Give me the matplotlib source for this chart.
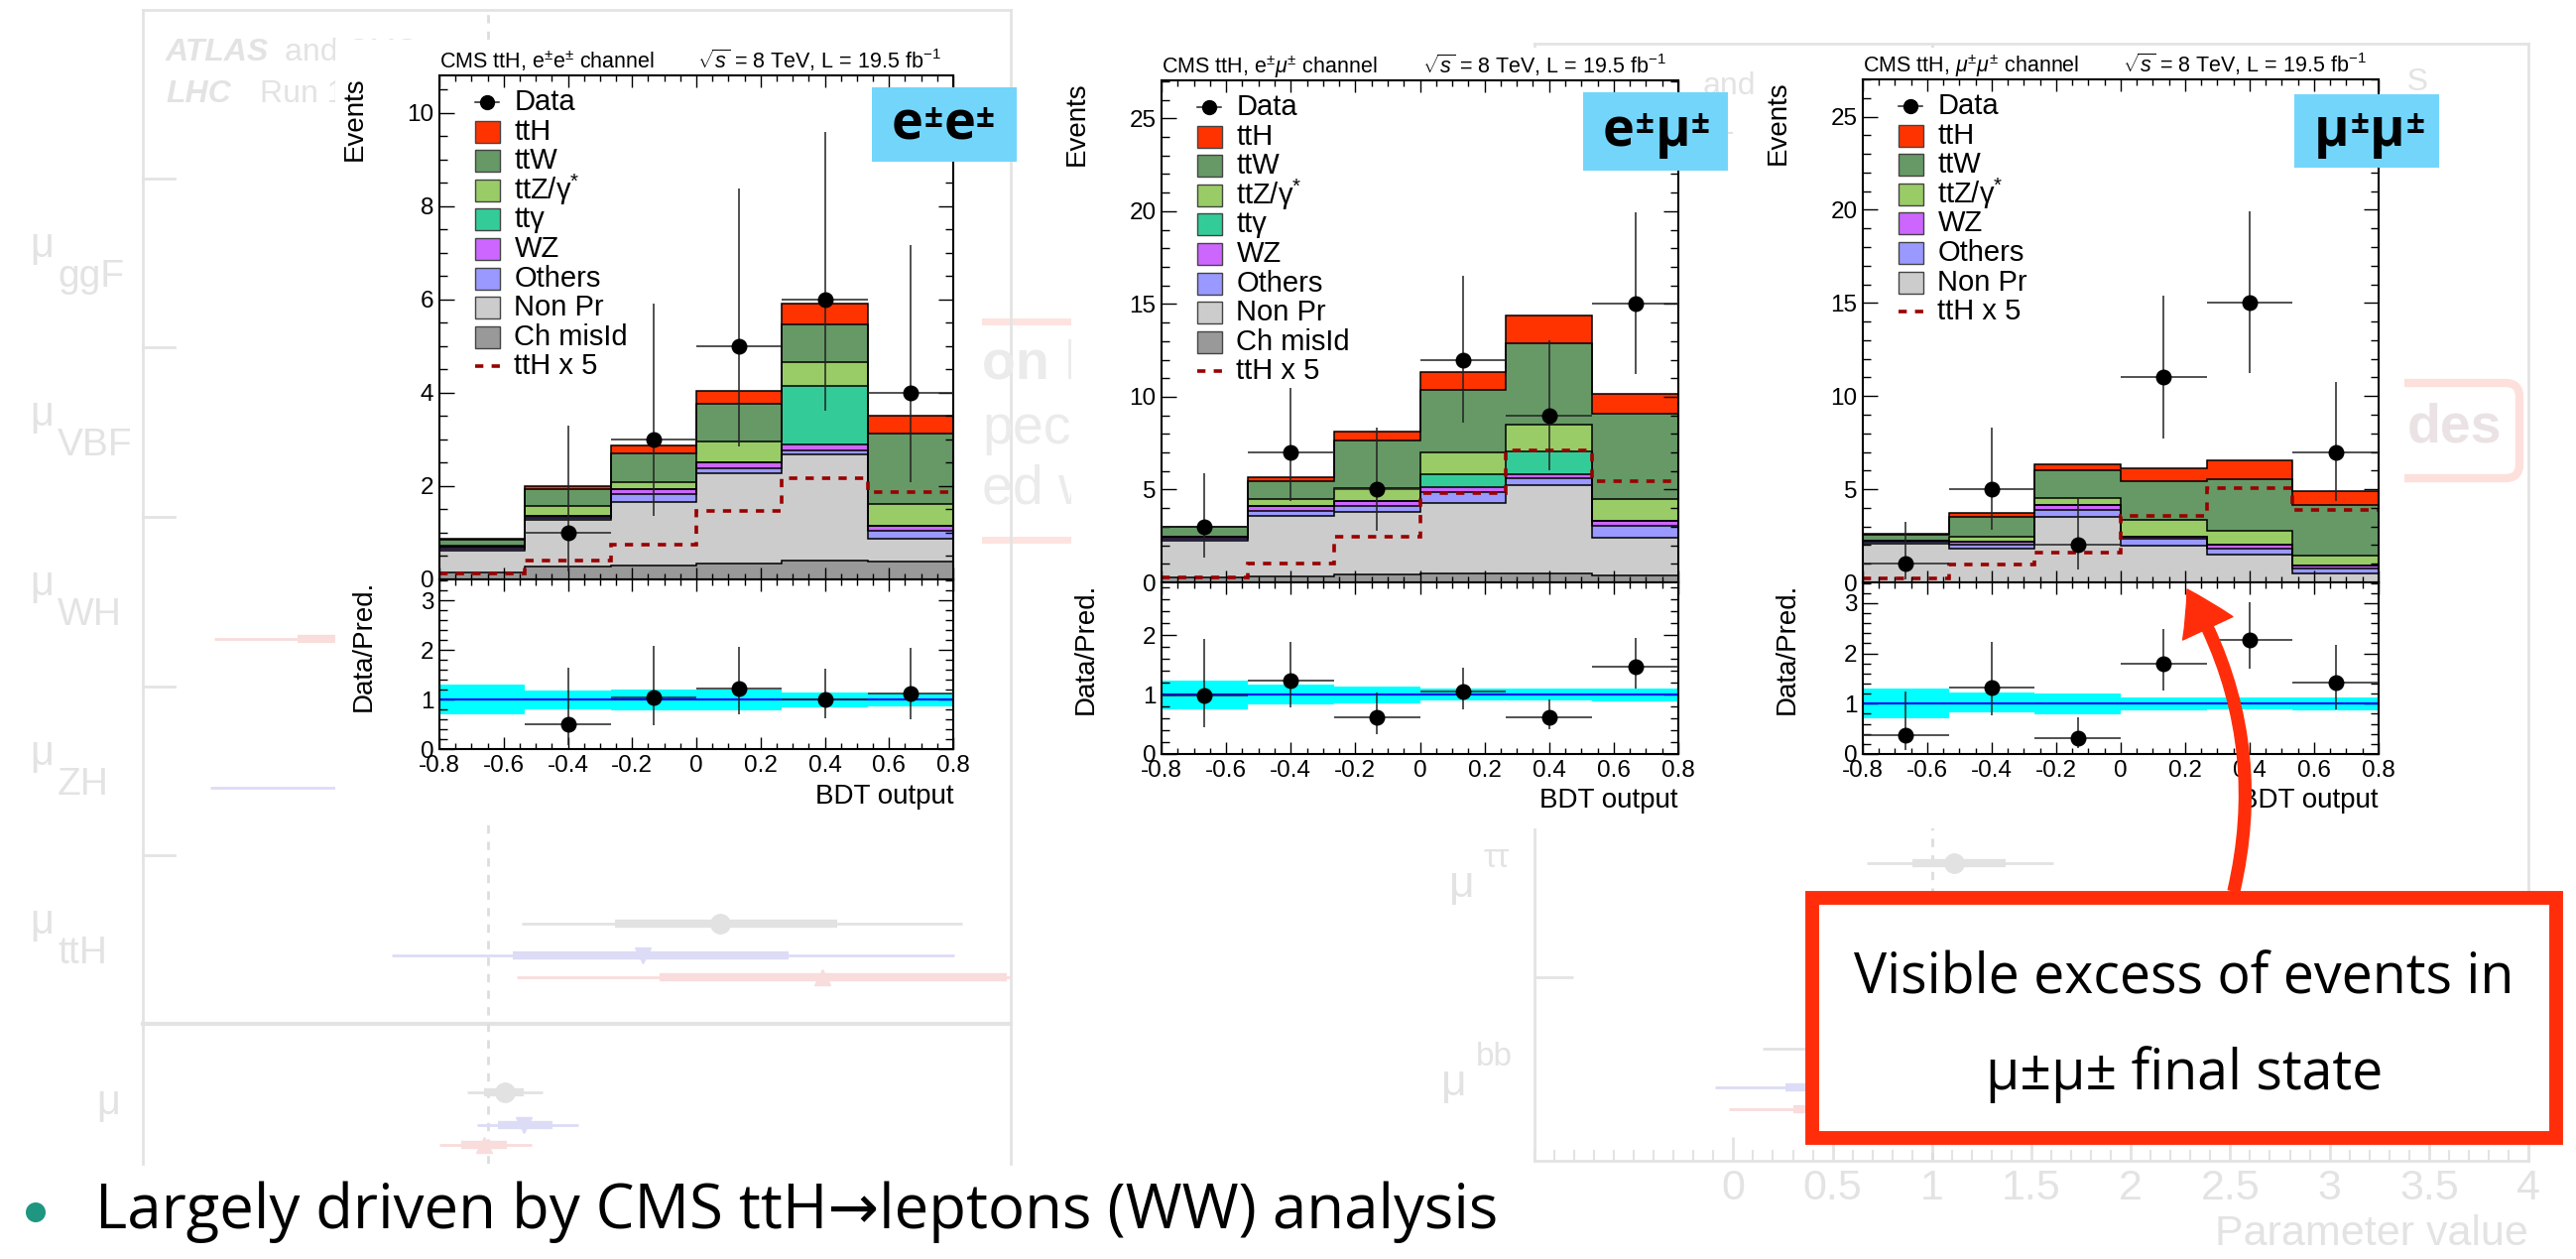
import numpy as np
import matplotlib.pyplot as plt
from matplotlib.patches import Rectangle, FancyArrowPatch, FancyBboxPatch, Circle
from matplotlib.ticker import MultipleLocator, FixedLocator, FormatStrFormatter

plt.rcParams['font.family'] = ['Liberation Sans', 'DejaVu Sans']
plt.rcParams['mathtext.fontset'] = 'custom'
plt.rcParams['mathtext.rm'] = 'Liberation Sans'
plt.rcParams['mathtext.it'] = 'Liberation Sans:italic'
plt.rcParams['mathtext.bf'] = 'Liberation Sans:bold'
plt.rcParams['axes.unicode_minus'] = False

W, H = 2597, 1269

# ---- data: BDT output bins ----
edges = np.linspace(-0.8, 0.8, 7)
centers = 0.5 * (edges[:-1] + edges[1:])
halfw = 0.5 * (edges[1] - edges[0])

proc_labels = ['Ch misId', 'Non Pr', 'Others', 'WZ', 'ttγ', r'ttZ/γ$^{*}$', 'ttW', 'ttH']
proc_colors = ['#999999', '#cccccc', '#9999ff', '#cc66ff', '#33cc99', '#99cc66', '#669966', '#ff3300']

# e+-e+- channel
ee_chmisid = [0.15, 0.27, 0.29, 0.35, 0.41, 0.39]
ee_nonpr = [0.47, 1.00, 1.37, 1.93, 2.26, 0.48]
ee_others = [0.04, 0.05, 0.16, 0.11, 0.10, 0.17]
ee_wz = [0.05, 0.05, 0.11, 0.11, 0.13, 0.11]
ee_ttg = [0.00, 0.00, 0.00, 0.00, 1.25, 0.00]
ee_ttz = [0.02, 0.20, 0.15, 0.45, 0.50, 0.47]
ee_ttw = [0.12, 0.36, 0.63, 0.81, 0.81, 1.51]
ee_tth = [0.02, 0.07, 0.15, 0.29, 0.44, 0.38]
ee_tth5 = [0.13, 0.41, 0.74, 1.46, 2.16, 1.88]
ee_data = [0, 1, 3, 5, 6, 4]
ee_data_lo = [0, 0.17, 1.37, 2.84, 3.62, 2.09]
ee_data_hi = [0, 3.30, 5.92, 8.38, 9.58, 7.16]
ee_ratio = [np.nan, 0.50, 1.05, 1.23, 1.01, 1.13]
ee_ratio_lo = [np.nan, 0.08, 0.48, 0.70, 0.63, 0.60]
ee_ratio_hi = [np.nan, 1.65, 2.08, 2.07, 1.63, 2.05]
ee_band_lo = [0.70, 0.80, 0.79, 0.79, 0.85, 0.87]
ee_band_hi = [1.30, 1.18, 1.20, 1.20, 1.14, 1.13]

# e+-mu+- channel
em_chmisid = [0.29, 0.32, 0.44, 0.48, 0.48, 0.38]
em_nonpr = [1.93, 3.27, 3.36, 3.80, 4.75, 2.03]
em_others = [0.14, 0.27, 0.29, 0.57, 0.38, 0.63]
em_wz = [0.11, 0.23, 0.28, 0.28, 0.23, 0.29]
em_ttg = [0.00, 0.00, 0.00, 0.71, 1.23, 0.00]
em_ttz = [0.00, 0.42, 0.71, 1.14, 1.45, 1.14]
em_ttw = [0.51, 0.95, 2.56, 3.38, 4.38, 4.60]
em_tth = [0.04, 0.19, 0.50, 0.95, 1.48, 1.10]
em_tth5 = [0.25, 0.99, 2.45, 4.81, 7.13, 5.46]
em_data = [3, 7, 5, 12, 9, 15]
em_data_lo = [1.33, 4.41, 2.80, 8.59, 6.03, 11.22]
em_data_hi = [5.89, 10.46, 8.33, 16.54, 13.06, 19.92]
em_ratio = [0.99, 1.24, 0.61, 1.06, 0.62, 1.47]
em_ratio_lo = [0.45, 0.78, 0.34, 0.76, 0.42, 1.10]
em_ratio_hi = [1.93, 1.89, 1.03, 1.45, 0.92, 1.96]
em_band_lo = [0.76, 0.84, 0.86, 0.90, 0.90, 0.89]
em_band_hi = [1.24, 1.17, 1.13, 1.10, 1.10, 1.11]

# mu+-mu+- channel
mm_chmisid = [0, 0, 0, 0, 0, 0]
mm_nonpr = [2.10, 1.81, 3.52, 1.96, 1.48, 0.48]
mm_others = [0.06, 0.22, 0.38, 0.36, 0.33, 0.24]
mm_wz = [0.07, 0.16, 0.23, 0.15, 0.19, 0.17]
mm_ttg = [0, 0, 0, 0, 0, 0]
mm_ttz = [0.00, 0.26, 0.41, 0.91, 0.76, 0.54]
mm_ttw = [0.35, 1.07, 1.49, 2.04, 2.79, 2.73]
mm_tth = [0.04, 0.19, 0.30, 0.72, 1.01, 0.76]
mm_tth5 = [0.19, 0.95, 1.62, 3.56, 5.08, 3.90]
mm_data = [1, 5, 2, 11, 15, 7]
mm_data_lo = [0.17, 2.80, 0.67, 7.74, 11.22, 4.37]
mm_data_hi = [3.23, 8.33, 4.56, 15.40, 19.92, 10.74]
mm_ratio = [0.37, 1.33, 0.32, 1.79, 2.27, 1.41]
mm_ratio_lo = [0.07, 0.76, 0.12, 1.26, 1.70, 0.89]
mm_ratio_hi = [1.25, 2.22, 0.73, 2.49, 3.01, 2.16]
mm_band_lo = [0.70, 0.83, 0.78, 0.87, 0.88, 0.87]
mm_band_hi = [1.31, 1.23, 1.21, 1.13, 1.13, 1.13]

# faded background: coupling summary plots behind the insets
bgl_row = [3.90, 4.09, 4.22, 4.90, 5.09, 5.21, 2.22, 3.10]
bgl_mu = [2.23, 1.82, 2.77, 1.09, 1.19, 0.98, 0.90, 0.95]
bgl_in_lo = [1.67, 1.13, 1.91, 0.98, 1.05, 0.86, -0.01, 0.70]
bgl_in_hi = [2.85, 2.59, 3.75, 1.19, 1.34, 1.10, 1.80, 1.20]
bgl_out_lo = [1.18, 0.49, 1.15, 0.89, 0.94, 0.74, -0.45, -0.47]
bgl_out_hi = [3.51, 3.47, 3.77, 1.29, 1.48, 1.23, 2.30, 2.40]
bgl_kind = ['comb', 'atlas', 'cms', 'comb', 'atlas', 'cms', 'cms', 'atlas']
bgr_row = [-0.08, 0.86, 1.055, 1.166]
bgr_mu = [1.11, 0.65, 0.62, 1.00]
bgr_in_lo = [0.90, 0.40, 0.26, 0.30]
bgr_in_hi = [1.37, 0.90, 0.98, 1.60]
bgr_out_lo = [0.67, 0.15, -0.09, -0.02]
bgr_out_hi = [1.61, 1.20, 1.40, 1.80]
bgr_kind = ['comb', 'comb', 'atlas', 'cms']
bg_style = {'comb': ('#e2e2e2', 'o'), 'atlas': ('#dcdcf6', 'v'), 'cms': ('#f9dcdc', '^')}
faded = '#e3e3e3'

fig = plt.figure(figsize=(W / 100, H / 100), dpi=100)
fig.patch.set_facecolor('white')


def frac(x0, y0, x1, y1):
    return [x0 / W, 1 - y1 / H, (x1 - x0) / W, (y1 - y0) / H]


def pix_axes(z):
    a = fig.add_axes([0, 0, 1, 1], zorder=z)
    a.set_xlim(0, W)
    a.set_ylim(H, 0)
    a.axis('off')
    return a


# ---- background layer ----
base = pix_axes(0)
# left faded frame
base.plot([144, 144], [10, 1173], color=faded, lw=2)
base.plot([1019, 1019], [10, 1173], color=faded, lw=2)
base.plot([144, 1019], [10, 10], color=faded, lw=2)
base.plot([144, 1019], [1032, 1032], color=faded, lw=3)
for yy in [180, 350, 521, 692, 862]:
    base.plot([144, 176], [yy, yy], color=faded, lw=2)
for lab, yc in zip(['ggF', 'VBF', 'WH', 'ZH', 'ttH'], [265, 435, 606, 777, 947]):
    base.text(42, yc - 17, 'μ', fontsize=30, color=faded, ha='center', va='center')
    base.text(58, yc + 14, lab, fontsize=28, color=faded, ha='left', va='center')
base.text(109, 1112, 'μ', fontsize=30, color=faded, ha='center', va='center')
base.text(167, 53, 'ATLAS', fontsize=23, color=faded, weight='bold', style='italic', va='center')
base.text(287, 53, 'and CMS', fontsize=23, color=faded, va='center')
base.text(167, 95, 'LHC', fontsize=23, color=faded, weight='bold', style='italic', va='center')
base.text(262, 95, 'Run 1', fontsize=23, color=faded, va='center')
base.text(940, 55, '● ATLAS+CMS', fontsize=23, color=faded, ha='right', va='center')
base.text(1717, 87, 'and', fontsize=23, color=faded, va='center')
base.text(1731, 127, '1', fontsize=23, color=faded, va='center')
base.text(2449, 83, 'ATLAS+CMS', fontsize=23, color=faded, ha='right', va='center')
# faded red boxes of the slide underneath
base.add_patch(Rectangle((620, 324), 470, 220, fill=False, ec='#fde3df', lw=5))
base.text(990, 368, 'on l', fontsize=40, weight='bold', color='#ebebeb', va='center')
base.text(990, 433, 'pec', fontsize=40, color='#ebebeb', va='center')
base.text(990, 493, 'ed w', fontsize=40, color='#ebebeb', va='center')
base.add_patch(FancyBboxPatch((2300, 386), 240, 96, boxstyle='round,pad=0,rounding_size=14',
                              fill=False, ec='#fde0dc', lw=6))
base.text(2427, 432, 'des', fontsize=40, weight='bold', color='#ebe3e3', va='center')
# right faded plot labels
base.text(1474, 893, 'μ', fontsize=32, color=faded, ha='center', va='center')
base.text(1496, 866, 'ττ', fontsize=24, color=faded, ha='left', va='center')
base.text(1466, 1092, 'μ', fontsize=32, color=faded, ha='center', va='center')
base.text(1488, 1066, 'bb', fontsize=24, color=faded, ha='left', va='center')

bgl = fig.add_axes(frac(144, 10, 1019, 1173), zorder=0.2)
bgl.set_xlim(-0.83, 3.77)
bgl.set_ylim(5.32, -1.5)
bgl.axis('off')
bgl.axvline(1, color='#dddddd', lw=2, ls=(0, (3, 3)))


def faded_points(a, rows, mu, ilo, ihi, olo, ohi, kinds):
    for r, m, a1, a2, b1, b2, k in zip(rows, mu, ilo, ihi, olo, ohi, kinds):
        col, mk = bg_style[k]
        a.plot([b1, b2], [r, r], color=col, lw=2, solid_capstyle='butt')
        a.plot([a1, a2], [r, r], color=col, lw=6, solid_capstyle='butt')
        a.plot([m], [r], marker=mk, color=col, ms=14 if k == 'comb' else 11)


faded_points(bgl, bgl_row, bgl_mu, bgl_in_lo, bgl_in_hi, bgl_out_lo, bgl_out_hi, bgl_kind)

bgr = fig.add_axes(frac(1547, 44, 2549, 1170), zorder=0.2)
bgr.set_facecolor('none')
bgr.set_xlim(-1.0, 4.0)
bgr.set_ylim(1.427, -4.23)
for s in bgr.spines.values():
    s.set_color(faded)
    s.set_linewidth(2)
bgr.axvline(1, color='#dddddd', lw=2, ls=(0, (3, 3)))
bgr.xaxis.set_major_locator(FixedLocator([0, 0.5, 1, 1.5, 2, 2.5, 3, 3.5, 4]))
bgr.xaxis.set_minor_locator(MultipleLocator(0.1))
bgr.xaxis.set_major_formatter(FormatStrFormatter('%g'))
bgr.set_yticks([-3.5, -2.5, -1.5, -0.5, 0.5])
bgr.tick_params(axis='y', direction='in', length=28, color=faded, width=2, labelleft=False)
bgr.tick_params(axis='x', which='major', direction='in', length=17, color=faded, width=2,
                labelsize=31, labelcolor=faded, pad=6)
bgr.tick_params(axis='x', which='minor', direction='in', length=8, color=faded, width=1.5)
bgr.set_xlabel('Parameter value', loc='right', fontsize=31, color=faded, labelpad=4)
faded_points(bgr, bgr_row, bgr_mu, bgr_in_lo, bgr_in_hi, bgr_out_lo, bgr_out_hi, bgr_kind)

# white regions of the pasted CMS figures
cover = pix_axes(1)
for x0, y0, x1, y1 in [(338, 40, 990, 825), (1080, 48, 1700, 835), (1770, 48, 2424, 835)]:
    cover.add_patch(Rectangle((x0, y0), x1 - x0, y1 - y0, color='white', lw=0))

# ---- CMS panels ----
panels = [
    dict(box=(443, 76, 961, 584, 755), ymax=10.8, rmax=3.42, ymaj=2, ymin=0.5,
         chan=r'CMS ttH, e$^{\pm}$e$^{\pm}$ channel',
         stack=[ee_chmisid, ee_nonpr, ee_others, ee_wz, ee_ttg, ee_ttz, ee_ttw, ee_tth],
         tth5=ee_tth5, data=ee_data, dlo=ee_data_lo, dhi=ee_data_hi,
         ratio=ee_ratio, rlo=ee_ratio_lo, rhi=ee_ratio_hi, blo=ee_band_lo, bhi=ee_band_hi,
         leg=[7, 6, 5, 4, 3, 2, 1, 0]),
    dict(box=(1171, 81, 1692, 587, 760), ymax=27.05, rmax=2.89, ymaj=5, ymin=1,
         chan=r'CMS ttH, e$^{\pm}$$\mu^{\pm}$ channel',
         stack=[em_chmisid, em_nonpr, em_others, em_wz, em_ttg, em_ttz, em_ttw, em_tth],
         tth5=em_tth5, data=em_data, dlo=em_data_lo, dhi=em_data_hi,
         ratio=em_ratio, rlo=em_ratio_lo, rhi=em_ratio_hi, blo=em_band_lo, bhi=em_band_hi,
         leg=[7, 6, 5, 4, 3, 2, 1, 0]),
    dict(box=(1878, 80, 2398, 587, 760), ymax=27.0, rmax=3.41, ymaj=5, ymin=1,
         chan=r'CMS ttH, $\mu^{\pm}\mu^{\pm}$ channel',
         stack=[mm_chmisid, mm_nonpr, mm_others, mm_wz, mm_ttg, mm_ttz, mm_ttw, mm_tth],
         tth5=mm_tth5, data=mm_data, dlo=mm_data_lo, dhi=mm_data_hi,
         ratio=mm_ratio, rlo=mm_ratio_lo, rhi=mm_ratio_hi, blo=mm_band_lo, bhi=mm_band_hi,
         leg=[7, 6, 5, 3, 2, 1]),
]

tth5_style = dict(color='#990000', lw=2.6, ls=(0, (2.3, 2.3)))


def style_axis(a):
    a.set_xlim(-0.8, 0.8)
    a.xaxis.set_major_locator(MultipleLocator(0.2))
    a.xaxis.set_minor_locator(MultipleLocator(0.05))
    a.xaxis.set_major_formatter(FormatStrFormatter('%g'))
    a.yaxis.set_major_formatter(FormatStrFormatter('%g'))
    a.tick_params(which='both', direction='in', top=True, right=True, width=1, labelsize=17.5, pad=4)
    a.tick_params(axis='x', which='major', length=8.5)
    a.tick_params(axis='x', which='minor', length=4.3)
    a.tick_params(axis='y', which='major', length=11)
    a.tick_params(axis='y', which='minor', length=5.5)
    for s in a.spines.values():
        s.set_linewidth(1.5)


for p in panels:
    L, T, R, B0, RB = p['box']
    axw, axh = R - L, B0 - T
    ax = fig.add_axes(frac(L, T, R, B0), zorder=2)
    rax = fig.add_axes(frac(L, B0, R, RB), zorder=2)
    style_axis(ax)
    style_axis(rax)

    cum = np.zeros(6)
    tops = []
    for vals, col in zip(p['stack'], proc_colors):
        new = cum + np.array(vals)
        ax.stairs(new, edges, baseline=cum, fill=True, color=col, lw=0)
        tops.append(new)
        cum = new
    for t in tops:
        ax.stairs(t, edges, baseline=0, color='black', lw=1.1)
    ax.stairs(p['tth5'], edges, baseline=None, **tth5_style)

    d = np.array(p['data'], float)
    lo = np.array(p['dlo'])
    hi = np.array(p['dhi'])
    m = d > 0
    ax.errorbar(centers[m], d[m], yerr=[d[m] - lo[m], hi[m] - d[m]], xerr=halfw, fmt='o',
                ms=10.5, color='black', ecolor='#222222', elinewidth=1.1, capsize=0, zorder=5)
    ax.set_ylim(0, p['ymax'])
    ax.yaxis.set_major_locator(MultipleLocator(p['ymaj']))
    ax.yaxis.set_minor_locator(MultipleLocator(p['ymin']))
    ax.tick_params(axis='x', labelbottom=False)

    # legend
    entries = [('Data', 'data', None)] + [(proc_labels[i], 'box', proc_colors[i]) for i in p['leg']]
    entries.append(('ttH x 5', 'line', None))
    for i, (lab, kind, col) in enumerate(entries):
        yc = 1 - (27 + 29.6 * i) / axh
        if kind == 'data':
            ax.plot([36 / axw, 60 / axw], [yc, yc], color='#222222', lw=1.1, transform=ax.transAxes)
            ax.plot([48 / axw], [yc], 'o', color='black', ms=10, transform=ax.transAxes)
        elif kind == 'box':
            ax.add_patch(Rectangle((36 / axw, yc - 11 / axh), 25 / axw, 22 / axh, transform=ax.transAxes,
                                   facecolor=col, edgecolor='#444444', lw=1))
        else:
            ax.plot([36 / axw, 61 / axw], [yc, yc], transform=ax.transAxes, **tth5_style)
        ax.text(75.5 / axw, yc, lab, transform=ax.transAxes, ha='left', va='center', fontsize=21)

    ax.text(0, 1 + 7 / axh, p['chan'], transform=ax.transAxes, ha='left', va='baseline', fontsize=15.5)
    ax.text(1 - 12 / axw, 1 + 7 / axh, r'$\sqrt{s}$ = 8 TeV, L = 19.5 fb$^{-1}$', transform=ax.transAxes,
            ha='right', va='baseline', fontsize=15.5)
    ax.text(-85 / axw, 1 - 1 / axh, 'Events', transform=ax.transAxes, rotation=90, ha='center', va='top',
            fontsize=20)

    # ratio
    rax.stairs(p['bhi'], edges, baseline=p['blo'], fill=True, color='#00ffff', lw=0)
    rax.axhline(1, color='#0000ff', lw=1.5)
    r = np.array(p['ratio'], float)
    rlo = np.array(p['rlo'], float)
    rhi = np.array(p['rhi'], float)
    m = ~np.isnan(r)
    rax.errorbar(centers[m], r[m], yerr=[r[m] - rlo[m], rhi[m] - r[m]], xerr=halfw, fmt='o',
                 ms=10.5, color='black', ecolor='#222222', elinewidth=1.1, capsize=0, zorder=5)
    rax.set_ylim(0, p['rmax'])
    rax.yaxis.set_major_locator(MultipleLocator(1))
    rax.yaxis.set_minor_locator(MultipleLocator(0.2))
    rax.set_xlabel('BDT output', loc='right', fontsize=20, labelpad=5)
    rh = RB - B0
    rax.text(-76 / axw, 1 - 1 / rh, 'Data/Pred.', transform=rax.transAxes, rotation=90, ha='center',
             va='top', fontsize=20)

# ---- overlay: channel badges, callout, bullet ----
over = pix_axes(3)
osans = ['Open Sans', 'DejaVu Sans']
badges = [((879, 88, 1025, 163), ['e', 'e']), ((1596, 93, 1742, 172), ['e', 'μ']),
          ((2313, 95, 2459, 169), ['μ', 'μ'])]
for (x0, y0, x1, y1), letters in badges:
    over.add_patch(Rectangle((x0, y0), x1 - x0, y1 - y0, color='#74d5fb', lw=0))
    ybase = (y0 + y1) / 2 + 15
    prev = None
    for ch in letters:
        for piece, sup in ((ch, False), ('±', True)):
            fs = 24 if sup else 39
            yb = ybase - 13 if sup else ybase
            if prev is None:
                prev = over.text(x0 + 20, yb, piece, fontsize=fs, weight='bold', family=osans,
                                 ha='left', va='baseline')
            else:
                prev = over.annotate(piece, xy=(1, yb), xycoords=(prev, 'data'), xytext=(0.5, 0),
                                     textcoords='offset points', fontsize=fs, weight='bold',
                                     family=osans, ha='left', va='baseline')

red = '#ff2d0a'
over.add_patch(Rectangle((1827, 905), 750, 242, facecolor='white', edgecolor=red, lw=10))
over.text(2202, 987, 'Visible excess of events in', ha='center', va='center', fontsize=40, family=osans)
over.text(2202, 1083, 'μ±μ± final state', ha='center', va='center', fontsize=40, family=osans)
over.add_patch(FancyArrowPatch((2252, 898), (2205, 594), connectionstyle='arc3,rad=0.2',
                               arrowstyle='simple,head_length=32,head_width=40,tail_width=8.5',
                               color=red, mutation_scale=1, shrinkA=0, shrinkB=0))

over.add_patch(Circle((36, 1222), 10, color='#1e9680', lw=0))
over.text(96, 1222, 'Largely driven by CMS ttH→leptons (WW) analysis', ha='left', va='center',
          fontsize=44.5, family=osans)

fig.savefig('out.png', dpi=100)
